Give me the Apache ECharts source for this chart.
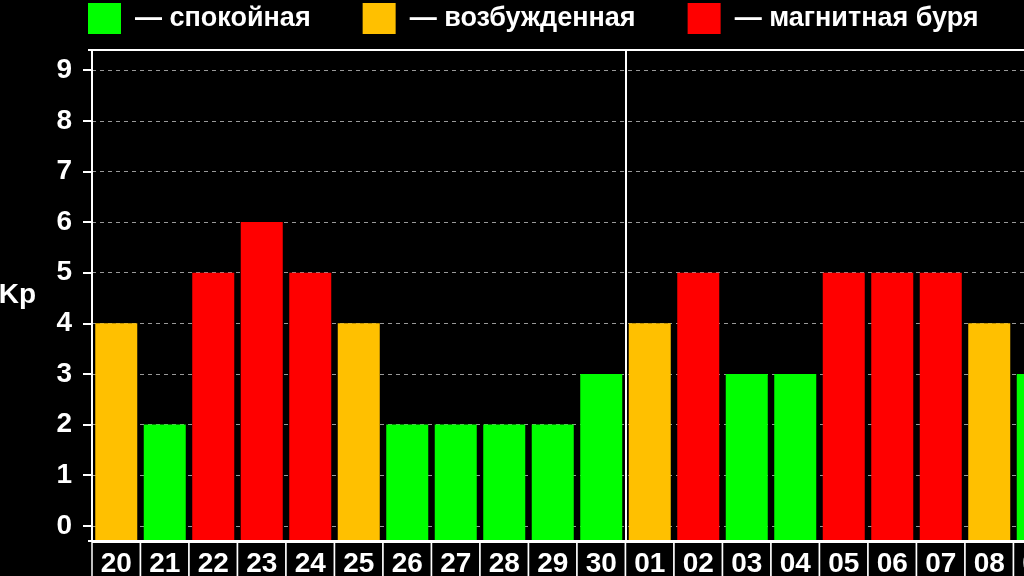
<!DOCTYPE html>
<html>
<head>
<meta charset="utf-8">
<script src="https://cdn.jsdelivr.net/npm/echarts@6/dist/echarts.min.js"></script>
<style>
html, body { margin: 0; padding: 0; background: #000; }
#main { width: 1024px; height: 576px; }
</style>
</head>
<body>
<div id="main"></div>
<script>
// days of the two months shown
var days = ['20','21','22','23','24','25','26','27','28','29','30',
            '01','02','03','04','05','06','07','08','09'];
// Kp index per day
var kp = [4, 2, 5, 6, 5, 4, 2, 2, 2, 2, 3,
          4, 5, 3, 3, 5, 5, 5, 4, 3];
var yTicks = [0, 1, 2, 3, 4, 5, 6, 7, 8, 9];
var levelNames = ['спокойная', 'возбужденная', 'магнитная буря'];
var levelColors = ['#00ff00', '#ffc000', '#ff0000'];
// index of the first day of the new month
var monthStart = 11;

function levelOf(v) {
  if (v >= 5) return 2;
  if (v >= 4) return 1;
  return 0;
}

var font = 'Liberation Sans, Arial, sans-serif';

var series = levelNames.map(function (name, li) {
  return {
    name: name,
    type: 'bar',
    barWidth: 42,
    barGap: '-100%',
    itemStyle: { color: levelColors[li] },
    data: kp.map(function (v) { return levelOf(v) === li ? v : '-'; })
  };
});

var myChart = echarts.init(document.getElementById('main'));
var option = {
  backgroundColor: '#000',
  animation: false,
  legend: {
    left: 88,
    top: 3,
    padding: 0,
    itemWidth: 33,
    itemHeight: 31,
    itemGap: 52,
    icon: 'rect',
    formatter: '— {name}',
    textStyle: {
      color: '#fff',
      fontSize: 27,
      fontWeight: 'bold',
      fontFamily: font,
      padding: [0, 0, 0, 9]
    },
    data: levelNames
  },
  grid: {
    left: 92,
    right: -38,
    top: 50,
    bottom: 35,
    outerBoundsMode: 'none',
    containLabel: false
  },
  xAxis: [{
    type: 'category',
    data: days,
    axisLine: { show: false },
    axisTick: { show: false },
    splitLine: { show: false },
    axisLabel: {
      interval: 0,
      margin: 2,
      color: '#fff',
      fontSize: 28,
      fontWeight: 'bold',
      fontFamily: font,
      width: 47,
      align: 'center',
      backgroundColor: '#000',
      borderColor: '#fff',
      borderWidth: 1.5,
      padding: [7, 0, 20, 0]
    }
  }, {
    // helper axis for the month separator line
    type: 'value',
    min: 0,
    max: days.length,
    interval: monthStart,
    show: true,
    axisLine: { show: false },
    axisTick: { show: false },
    axisLabel: { show: false },
    splitLine: {
      show: true,
      showMinLine: false,
      showMaxLine: false,
      lineStyle: { color: '#fff', width: 2, type: 'solid' }
    }
  }],
  yAxis: {
    type: 'value',
    min: -0.3,
    max: 9.4,
    startValue: -0.3,
    offset: 4,
    name: 'Kp',
    nameLocation: 'middle',
    nameRotate: 0,
    nameGap: 52,
    nameTextStyle: {
      color: '#fff',
      fontSize: 28,
      fontWeight: 'bold',
      fontFamily: font,
      padding: [10, 0, 0, 0]
    },
    axisLine: { show: true, lineStyle: { color: '#fff', width: 2 } },
    axisTick: {
      show: true,
      length: 9,
      customValues: yTicks,
      lineStyle: { color: '#fff', width: 2 }
    },
    axisLabel: {
      customValues: yTicks,
      margin: 16,
      color: '#fff',
      fontSize: 28,
      fontWeight: 'bold',
      fontFamily: font
    },
    splitLine: {
      show: true,
      lineStyle: { color: '#999', width: 1, type: [4, 4] }
    }
  },
  graphic: [
    { type: 'line', shape: { x1: 88, y1: 50, x2: 1024, y2: 50 }, style: { stroke: '#fff', lineWidth: 2 }, z: 10 },
    { type: 'line', shape: { x1: 88, y1: 541, x2: 1024, y2: 541 }, style: { stroke: '#fff', lineWidth: 2 }, z: 10 }
  ],
  series: series
};
myChart.setOption(option);
</script>
</body>
</html>
